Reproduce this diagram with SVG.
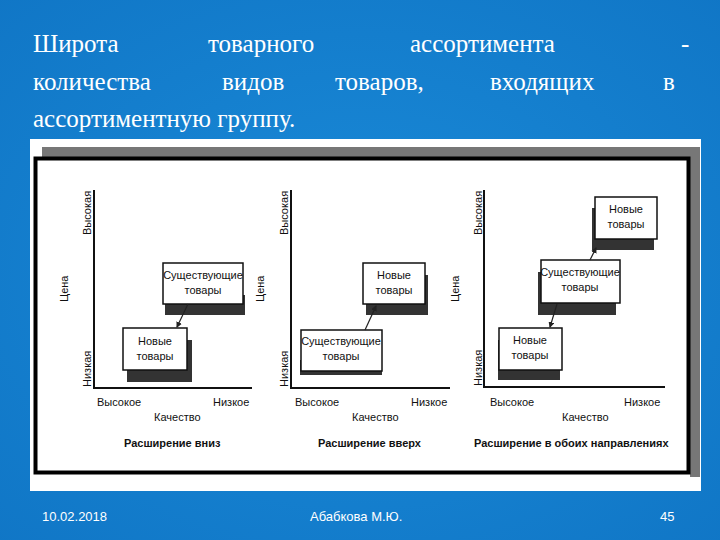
<svg xmlns="http://www.w3.org/2000/svg" width="720" height="540" viewBox="0 0 720 540">
<defs>
<radialGradient id="bg" cx="0.5" cy="0.5" r="0.8"><stop offset="0" stop-color="#1a8ad8"/><stop offset="1" stop-color="#0f74c4"/></radialGradient>
<marker id="ah" markerWidth="6" markerHeight="6" refX="5" refY="3" orient="auto" markerUnits="userSpaceOnUse"><path d="M0,0 L6,3 L0,6 Z" fill="#222"/></marker>
</defs>
<style>
.t{font-family:"Liberation Serif",serif;font-size:25px;fill:#fff}
.f{font-family:"Liberation Sans",sans-serif;font-size:13px;fill:#fff}
.l{font-family:"Liberation Sans",sans-serif;font-size:11px;fill:#111}
.b{font-family:"Liberation Sans",sans-serif;font-size:11px;font-weight:bold;fill:#111}
.ax{stroke:#111;stroke-width:2;fill:none}
.bx{fill:#fff;stroke:#111;stroke-width:1.5}
.sh{fill:#333}
.c{stroke:#222;stroke-width:1.2;fill:none}
</style>
<rect width="720" height="540" fill="url(#bg)"/>
<g id="title">
<text class="t" x="33" y="52">Широта</text><text class="t" x="208" y="52">товарного</text><text class="t" x="410" y="52">ассортимента</text><text class="t" x="681" y="52">-</text>
<text class="t" x="33" y="90">количества</text><text class="t" x="222" y="90">видов</text><text class="t" x="335" y="90">товаров,</text><text class="t" x="490" y="90">входящих</text><text class="t" x="663" y="90">в</text>
<text class="t" x="33" y="127">ассортиментную группу.</text>
</g>
<g id="picture">
<rect x="30" y="139" width="671" height="352" fill="#fff"/>
<rect x="42" y="147" width="658" height="10" fill="#777"/>
<rect x="690" y="147" width="10" height="330" fill="#777"/>
<rect x="35.5" y="158.5" width="653" height="314" fill="#fff" stroke="#000" stroke-width="4"/>
</g>
<g id="panel1">
<path class="ax" d="M94,190 V388 H252"/>
<text class="l" transform="translate(91,235) rotate(-90)">Высокая</text>
<text class="l" transform="translate(68,302) rotate(-90)">Цена</text>
<text class="l" transform="translate(91,387) rotate(-90)">Низкая</text>
<text class="l" x="97" y="406">Высокое</text><text class="l" x="154" y="421">Качество</text><text class="l" x="213" y="406">Низкое</text>
<text class="b" x="124" y="447">Расширение вниз</text>
</g>
<g id="p1-existing"><rect class="sh" x="165" y="295" width="80" height="20"/><rect class="bx" x="163" y="263" width="80" height="41"/><text class="l" x="203" y="279" text-anchor="middle">Существующие</text><text class="l" x="203" y="294" text-anchor="middle">товары</text></g>
<g id="p1-new"><rect class="sh" x="127" y="340" width="65" height="42"/><rect class="bx" x="123" y="328" width="64" height="42"/><text class="l" x="155" y="345" text-anchor="middle">Новые</text><text class="l" x="155" y="360" text-anchor="middle">товары</text></g>
<g id="panel2">
<path class="ax" d="M291,190 V388 H450"/>
<text class="l" transform="translate(288,235) rotate(-90)">Высокая</text>
<text class="l" transform="translate(264,302) rotate(-90)">Цена</text>
<text class="l" transform="translate(288,387) rotate(-90)">Низкая</text>
<text class="l" x="295" y="406">Высокое</text><text class="l" x="352" y="421">Качество</text><text class="l" x="411" y="406">Низкое</text>
<text class="b" x="318" y="447">Расширение вверх</text>
</g>
<g id="p2-new"><rect class="sh" x="366" y="275" width="62" height="40"/><rect class="bx" x="363" y="263" width="62" height="41"/><text class="l" x="394" y="279" text-anchor="middle">Новые</text><text class="l" x="394" y="294" text-anchor="middle">товары</text></g>
<g id="p2-existing"><rect class="sh" x="300" y="360" width="82" height="15"/><rect class="bx" x="301" y="330" width="81" height="41"/><text class="l" x="341" y="345" text-anchor="middle">Существующие</text><text class="l" x="341" y="360" text-anchor="middle">товары</text></g>
<g id="panel3">
<path class="ax" d="M484,190 V387 H665"/>
<text class="l" transform="translate(482,235) rotate(-90)">Высокая</text>
<text class="l" transform="translate(459,302) rotate(-90)">Цена</text>
<text class="l" transform="translate(482,386) rotate(-90)">Низкая</text>
<text class="l" x="490" y="406">Высокое</text><text class="l" x="562" y="421">Качество</text><text class="l" x="624" y="406">Низкое</text>
<text class="b" x="474" y="447">Расширение в обоих направлениях</text>
</g>
<g id="p3-new-top"><rect class="sh" x="592" y="208" width="62" height="42"/><rect class="bx" x="595" y="197" width="62" height="42"/><text class="l" x="626" y="213" text-anchor="middle">Новые</text><text class="l" x="626" y="228" text-anchor="middle">товары</text></g>
<g id="p3-existing"><rect class="sh" x="538" y="272" width="78" height="43"/><rect class="bx" x="541" y="260" width="79" height="43"/><text class="l" x="580" y="276" text-anchor="middle">Существующие</text><text class="l" x="580" y="291" text-anchor="middle">товары</text></g>
<g id="p3-new-low"><rect class="sh" x="498" y="340" width="62" height="40"/><rect class="bx" x="499" y="328" width="63" height="42"/><text class="l" x="530" y="344" text-anchor="middle">Новые</text><text class="l" x="530" y="359" text-anchor="middle">товары</text></g>
<g id="connectors">
<line class="c" x1="188" y1="304" x2="177" y2="327" marker-end="url(#ah)"/>
<line class="c" x1="365" y1="330" x2="376" y2="306" marker-end="url(#ah)"/>
<line class="c" x1="590" y1="260" x2="596" y2="248" marker-end="url(#ah)"/>
<line class="c" x1="557" y1="304" x2="550" y2="327" marker-end="url(#ah)"/>
</g>
<g id="footer">
<text class="f" x="42" y="521">10.02.2018</text>
<text class="f" x="310" y="521">Абабкова М.Ю.</text>
<text class="f" x="660" y="521">45</text>
</g>
</svg>
